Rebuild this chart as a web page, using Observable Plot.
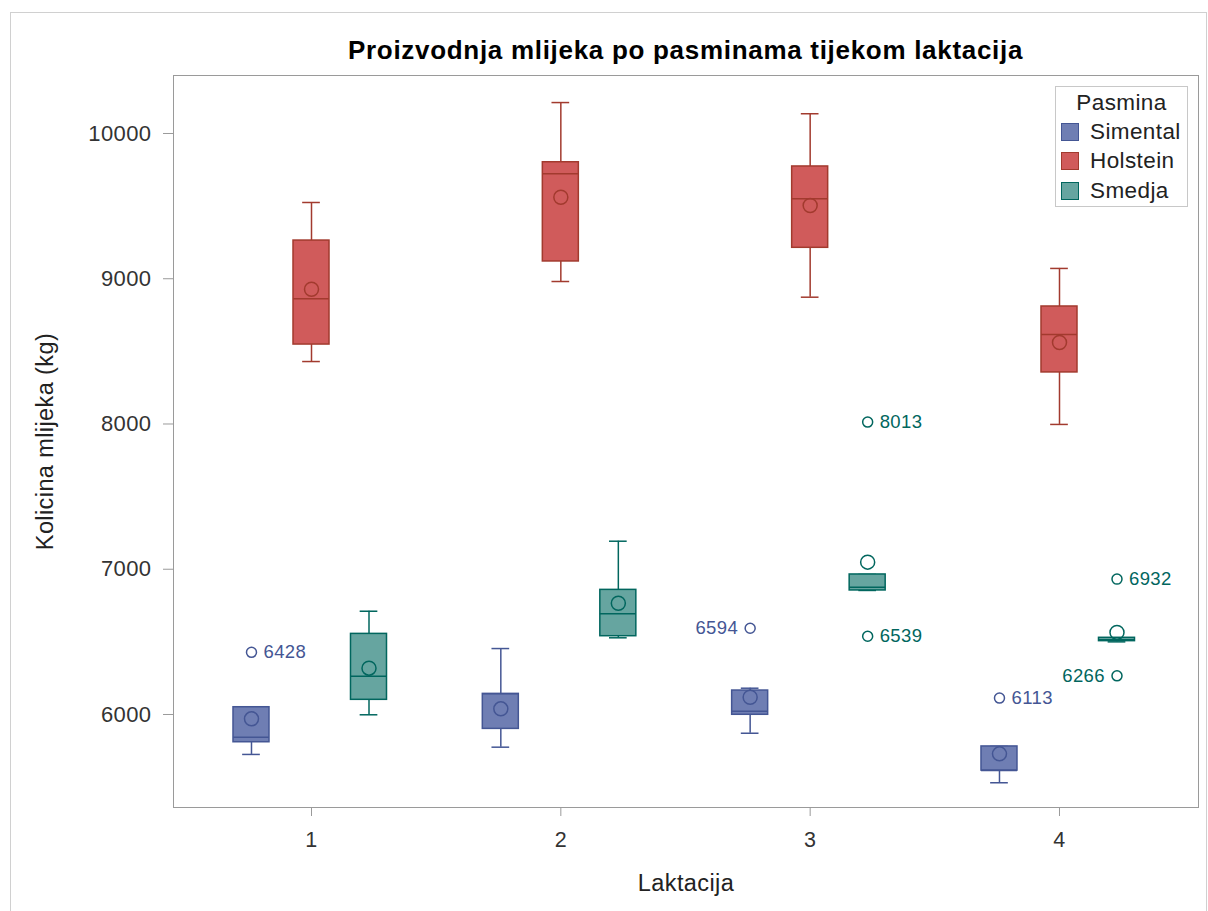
<!DOCTYPE html>
<html>
<head>
<meta charset="utf-8">
<script src="https://cdn.jsdelivr.net/npm/d3@7"></script>
<script src="https://cdn.jsdelivr.net/npm/@observablehq/plot@0.6"></script>
<style>
  html, body { margin: 0; padding: 0; background: #fff; }
  #wrap { position: relative; width: 1208px; height: 911px; overflow: hidden; font-family: "Liberation Sans", Arial, sans-serif; }
  #border { position: absolute; left: 10px; top: 12px; width: 1197px; height: 905px; border: 1px solid #d0d0d0; box-sizing: border-box; }
  #title { position: absolute; left: 173px; width: 1025px; top: 35px; line-height: 30px; text-align: center; font-weight: bold; font-size: 26px; letter-spacing: 0.7px; color: #000; }
  #chart { position: absolute; left: 0; top: 0; }
  #legend { position: absolute; left: 1055px; top: 86px; width: 133px; height: 121px; border: 1px solid #c8c8c8; box-sizing: border-box; background: #fff; font-size: 22.5px; letter-spacing: 0.4px; color: #222; }
  #legend .lt { text-align: center; margin-top: 3px; margin-bottom: 1px; line-height: 26px; }
  #legend .item { display: flex; align-items: center; height: 29.5px; padding-left: 5px; }
  #legend .sw { width: 18px; height: 18px; box-sizing: border-box; border: 1.5px solid; margin-right: 11px; }
</style>
</head>
<body>
<div id="wrap">
  <div id="border"></div>
  <div id="chart"></div>
  <div id="title">Proizvodnja mlijeka po pasminama tijekom laktacija</div>
  <div id="legend"></div>
</div>
<script>
// ---- data ----
const lactations = [1, 2, 3, 4];
const breeds = ["Simental", "Holstein", "Smedja"];

const simentalMin    = [5725, 5775, 5871, 5530];
const simentalQ1     = [5809, 5901, 5998, 5614];
const simentalMedian = [5844, 6142, 6023, 5614];
const simentalQ3     = [6050, 6142, 6165, 5780];
const simentalMax    = [6050, 6454, 6181, 5780];
const simentalMean   = [5970, 6039, 6119, 5729];

const holsteinMin    = [8430, 8981, 8873, 7997];
const holsteinQ1     = [8547, 9119, 9213, 8355];
const holsteinMedian = [8862, 9723, 9550, 8616];
const holsteinQ3     = [9263, 9802, 9773, 8809];
const holsteinMax    = [9525, 10213, 10136, 9071];
const holsteinMean   = [8928, 9561, 9504, 8561];

const smedjaMin    = [5998, 6528, 6854, 6500];
const smedjaQ1     = [6101, 6539, 6854, 6505];
const smedjaMedian = [6264, 6693, 6876, 6515];
const smedjaQ3     = [6555, 6858, 6964, 6528];
const smedjaMax    = [6711, 7193, 6964, 6528];
const smedjaMean   = [6319, 6766, 7049, 6565];

const outlierBreed = ["Simental", "Simental", "Smedja", "Smedja", "Smedja", "Smedja", "Simental"];
const outlierLact  = [1, 3, 3, 3, 4, 4, 4];
const outlierValue = [6428, 6594, 8013, 6539, 6932, 6266, 6113];
const outlierSide  = ["right", "left", "right", "right", "right", "left", "right"];

const yTicks = [6000, 7000, 8000, 9000, 10000];

// ---- styling ----
const fills = {Simental: "#6F7EB3", Holstein: "#D05B5B", Smedja: "#66A5A0"};
const lines = {Simental: "#445694", Holstein: "#A23A2E", Smedja: "#01665E"};
const offset = {Simental: -0.2407, Holstein: 0, Smedja: 0.2306};
const boxHalf = 0.0722, capHalf = 0.0355;

// ---- build table ----
const stats = {
  Simental: [simentalMin, simentalQ1, simentalMedian, simentalQ3, simentalMax, simentalMean],
  Holstein: [holsteinMin, holsteinQ1, holsteinMedian, holsteinQ3, holsteinMax, holsteinMean],
  Smedja:   [smedjaMin, smedjaQ1, smedjaMedian, smedjaQ3, smedjaMax, smedjaMean]
};
const boxes = [];
for (const b of breeds) {
  lactations.forEach((l, i) => {
    const [mn, q1, md, q3, mx, mean] = stats[b].map(a => a[i]);
    boxes.push({breed: b, lact: l, xc: l + offset[b], min: mn, q1, median: md, q3, max: mx, mean});
  });
}
const outliers = outlierValue.map((v, i) => ({
  breed: outlierBreed[i], lact: outlierLact[i], value: v, side: outlierSide[i],
  xc: outlierLact[i] + offset[outlierBreed[i]]
}));

const font = '"Liberation Sans", Arial, sans-serif';

const chart = Plot.plot({
  width: 1208,
  height: 911,
  marginLeft: 173,
  marginRight: 10,
  marginTop: 75,
  marginBottom: 104,
  style: {fontFamily: font, background: "transparent", color: "#333", letterSpacing: "0.4px"},
  x: {domain: [0.4465, 4.5575]},
  y: {domain: [5359.7, 10399.3]},
  marks: [
    Plot.frame({stroke: "#9a9a9a"}),
    Plot.axisX({ticks: lactations, tickFormat: d => String(d), tickSize: 9, tickPadding: 15, fontSize: 21.5, label: null, stroke: "#9a9a9a", fill: "#333"}),
    Plot.axisY({ticks: yTicks, tickFormat: d => String(d), tickSize: 10, tickPadding: 12, fontSize: 22, label: null, stroke: "#9a9a9a", fill: "#333"}),
    Plot.text(["Laktacija"], {frameAnchor: "bottom", textAnchor: "middle", dy: 83, fontSize: 23.5, fill: "#222"}),
    Plot.text(["Kolicina mlijeka (kg)"], {frameAnchor: "left", textAnchor: "middle", rotate: -90, dx: -128, fontSize: 23.5, fill: "#222"}),
    // whiskers
    Plot.ruleX(boxes, {x: "xc", y1: "min", y2: "q1", stroke: d => lines[d.breed], strokeWidth: 1.5}),
    Plot.ruleX(boxes, {x: "xc", y1: "q3", y2: "max", stroke: d => lines[d.breed], strokeWidth: 1.5}),
    Plot.ruleY(boxes, {y: "min", x1: d => d.xc - capHalf, x2: d => d.xc + capHalf, stroke: d => lines[d.breed], strokeWidth: 1.5}),
    Plot.ruleY(boxes, {y: "max", x1: d => d.xc - capHalf, x2: d => d.xc + capHalf, stroke: d => lines[d.breed], strokeWidth: 1.5}),
    // boxes
    Plot.rect(boxes, {x1: d => d.xc - boxHalf, x2: d => d.xc + boxHalf, y1: "q1", y2: "q3", fill: d => fills[d.breed], stroke: d => lines[d.breed], strokeWidth: 1.5}),
    Plot.ruleY(boxes, {y: "median", x1: d => d.xc - boxHalf, x2: d => d.xc + boxHalf, stroke: d => lines[d.breed], strokeWidth: 1.5}),
    // means
    Plot.dot(boxes, {x: "xc", y: "mean", r: 7, stroke: d => lines[d.breed], strokeWidth: 1.5, fill: "none"}),
    // outliers
    Plot.dot(outliers, {x: "xc", y: "value", r: 5, stroke: d => lines[d.breed], strokeWidth: 1.5, fill: "none"}),
    Plot.text(outliers.filter(d => d.side === "right"), {x: "xc", y: "value", text: d => String(d.value), textAnchor: "start", dx: 12, fontSize: 18.5, fill: d => lines[d.breed]}),
    Plot.text(outliers.filter(d => d.side === "left"), {x: "xc", y: "value", text: d => String(d.value), textAnchor: "end", dx: -12, fontSize: 18.5, fill: d => lines[d.breed]})
  ]
});
document.getElementById("chart").appendChild(chart);

// legend
const leg = document.getElementById("legend");
leg.innerHTML = `<div class="lt">Pasmina</div>` + breeds.map(b =>
  `<div class="item"><div class="sw" style="background:${fills[b]};border-color:${lines[b]}"></div><span>${b}</span></div>`
).join("");
</script>
</body>
</html>
